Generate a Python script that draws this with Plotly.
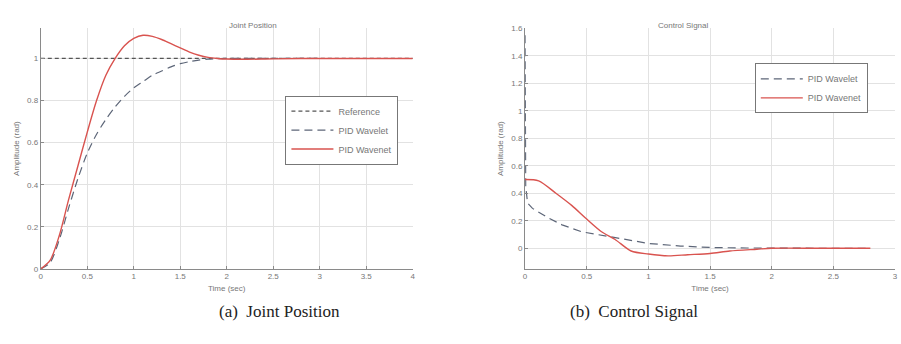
import plotly.graph_objects as go

# ---- data: (a) Joint Position ----
t_ref = [0, 4]
ref_vals = [1, 1]

t_wl = [0, 0.1, 0.2, 0.3, 0.4, 0.5, 0.6, 0.7, 0.8, 0.9, 1.0, 1.1, 1.2, 1.3, 1.4, 1.5, 1.6, 1.7, 1.8, 2.0, 2.5, 3.0]
wavelet_pos = [0, 0.03, 0.14, 0.29, 0.43, 0.55, 0.64, 0.71, 0.77, 0.82, 0.86, 0.89, 0.92, 0.94, 0.96, 0.975, 0.985, 0.992, 0.997, 1.0, 1.0, 1.0]

t_wn = [0, 0.1, 0.2, 0.3, 0.4, 0.5, 0.6, 0.7, 0.8, 0.9, 1.0, 1.1, 1.2, 1.3, 1.4, 1.5, 1.6, 1.7, 1.8, 1.9, 2.0, 2.2, 2.5, 3.0, 4.0]
wavenet_pos = [0, 0.04, 0.16, 0.33, 0.49, 0.65, 0.8, 0.92, 1.0, 1.06, 1.095, 1.11, 1.105, 1.09, 1.07, 1.05, 1.03, 1.015, 1.005, 1.0, 0.997, 0.996, 0.998, 1.0, 1.0]

# ---- data: (b) Control Signal ----
t_wl_u = [0, 0.005, 0.02, 0.06, 0.19, 0.3, 0.46, 0.62, 0.81, 1.0, 1.26, 1.53, 1.8, 2.0, 2.4, 2.8]
wavelet_u = [1.55, 0.45, 0.33, 0.29, 0.22, 0.17, 0.12, 0.094, 0.064, 0.035, 0.016, 0.005, 0.002, 0.0, 0.0, 0.0]

t_wn_u = [0, 0.11, 0.25, 0.38, 0.49, 0.62, 0.73, 0.86, 1.0, 1.16, 1.32, 1.5, 1.66, 1.88, 2.0, 2.4, 2.8]
wavenet_u = [0.5, 0.49, 0.40, 0.31, 0.22, 0.12, 0.064, -0.02, -0.042, -0.055, -0.047, -0.038, -0.02, -0.007, 0.0, 0.0, 0.0]

x_ticks_a = [0, 0.5, 1, 1.5, 2, 2.5, 3, 3.5, 4]
y_ticks_a = [0, 0.2, 0.4, 0.6, 0.8, 1]
x_ticks_b = [0, 0.5, 1, 1.5, 2, 2.5, 3]
y_ticks_b = [0, 0.2, 0.4, 0.6, 0.8, 1, 1.2, 1.4, 1.6]

REF_C = "#555555"
WL_C = "#5d6678"
WN_C = "#d9534f"

fig = go.Figure()
fig.add_trace(go.Scatter(x=t_ref, y=ref_vals, mode="lines", name="Reference",
                         line=dict(color=REF_C, width=1.2, dash="4px,3px"), xaxis="x", yaxis="y", legend="legend"))
fig.add_trace(go.Scatter(x=t_wl, y=wavelet_pos, mode="lines", name="PID Wavelet",
                         line=dict(color=WL_C, width=1.2, dash="8px,5px", shape="spline", smoothing=0.8),
                         xaxis="x", yaxis="y", legend="legend"))
fig.add_trace(go.Scatter(x=t_wn, y=wavenet_pos, mode="lines", name="PID Wavenet",
                         line=dict(color=WN_C, width=1.4, shape="spline", smoothing=0.8),
                         xaxis="x", yaxis="y", legend="legend"))

fig.add_trace(go.Scatter(x=t_wl_u, y=wavelet_u, mode="lines", name="PID Wavelet",
                         line=dict(color=WL_C, width=1.2, dash="8px,5px"), xaxis="x2", yaxis="y2", legend="legend2"))
fig.add_trace(go.Scatter(x=t_wn_u, y=wavenet_u, mode="lines", name="PID Wavenet",
                         line=dict(color=WN_C, width=1.4, shape="spline", smoothing=0.8),
                         xaxis="x2", yaxis="y2", legend="legend2"))

tickfont = dict(family="Liberation Sans, Arial, sans-serif", size=8, color="#777777")
axfont = dict(family="Liberation Sans, Arial, sans-serif", size=8, color="#777777")
grid = "#e2e2e2"

def xax(domain, rng, ticks, anchor):
    return dict(domain=domain, range=rng, tickvals=ticks, ticktext=[f"{v:g}" for v in ticks],
                showgrid=True, gridcolor=grid, gridwidth=1, zeroline=False,
                showline=True, linecolor="#8a8a8a", linewidth=1, ticks="inside", ticklen=3,
                tickcolor="#8a8a8a", tickfont=tickfont, anchor=anchor,
                title=dict(text="Time (sec)", font=axfont, standoff=4))

def yax(domain, rng, ticks, anchor):
    return dict(domain=domain, range=rng, tickvals=ticks, ticktext=[f"{v:g}" for v in ticks],
                showgrid=True, gridcolor=grid, gridwidth=1, zeroline=False,
                showline=True, linecolor="#8a8a8a", linewidth=1, ticks="inside", ticklen=3,
                tickcolor="#8a8a8a", tickfont=tickfont, anchor=anchor,
                title=dict(text="Amplitude (rad)", font=axfont, standoff=6))

legfont = dict(family="Liberation Sans, Arial, sans-serif", size=9, color="#777777")
ydom = [1 - 272 / 344, 1 - 25 / 344]
fig.update_layout(
    width=901, height=344,
    margin=dict(l=0, r=0, t=0, b=0),
    paper_bgcolor="white", plot_bgcolor="white",
    xaxis=xax([39 / 901, 413 / 901], [0, 4], x_ticks_a, "y"),
    yaxis=yax(ydom, [0, 1.143], y_ticks_a, "x"),
    xaxis2=xax([526 / 901, 898 / 901], [0, 3], x_ticks_b, "y2"),
    yaxis2=yax(ydom, [-0.15, 1.6], y_ticks_b, "x2"),
    legend=dict(x=285 / 901, y=1 - 94 / 344, xanchor="left", yanchor="top",
                bgcolor="white", bordercolor="#777777", borderwidth=1,
                font=legfont, tracegroupgap=0, itemwidth=42),
    legend2=dict(x=757 / 901, y=1 - 61 / 344, xanchor="left", yanchor="top",
                 bgcolor="white", bordercolor="#777777", borderwidth=1,
                 font=legfont, tracegroupgap=0, itemwidth=42),
    annotations=[
        dict(text="Joint Position", x=226 / 901, y=1 - 15 / 344, xref="paper", yref="paper",
             showarrow=False, font=dict(family="Liberation Sans, Arial, sans-serif", size=8, color="#777777")),
        dict(text="Control Signal", x=712 / 901, y=1 - 15 / 344, xref="paper", yref="paper",
             showarrow=False, font=dict(family="Liberation Sans, Arial, sans-serif", size=8, color="#777777")),
        dict(text="(a)  Joint Position", x=216 / 901, y=1 - 328 / 344, xref="paper", yref="paper",
             showarrow=False, font=dict(family="Liberation Serif, DejaVu Serif, serif", size=17, color="#222222")),
        dict(text="(b)  Control Signal", x=702 / 901, y=1 - 328 / 344, xref="paper", yref="paper",
             showarrow=False, font=dict(family="Liberation Serif, DejaVu Serif, serif", size=17, color="#222222")),
    ],
)

fig.write_html("out.html")
